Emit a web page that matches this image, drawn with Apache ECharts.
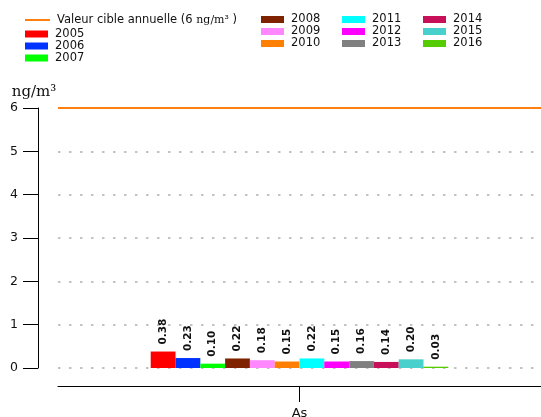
<!DOCTYPE html>
<html>
<head>
<meta charset="utf-8">
<script src="https://cdn.jsdelivr.net/npm/echarts@6/dist/echarts.min.js"></script>
<style>
  html, body { margin: 0; padding: 0; background: #fff; }
  #chart { width: 541px; height: 417px; }
</style>
</head>
<body>
<div id="chart"></div>
<script>
const categories = ['As'];
const years = ['2005', '2006', '2007', '2008', '2009', '2010', '2011', '2012', '2013', '2014', '2015', '2016'];
const values = [0.38, 0.23, 0.10, 0.22, 0.18, 0.15, 0.22, 0.15, 0.16, 0.14, 0.20, 0.03];
const yearColors = ['#ff0000', '#0033ff', '#00ff00', '#7f2200', '#ff88ff', '#ff7f00',
  '#00ffff', '#ff00ff', '#808080', '#c8105a', '#48d1cc', '#55cc00'];
const targetValue = 6;
const targetName = 'Valeur cible annuelle (6 ng/m³ )';
const yMin = 0, yMax = 6, yStep = 1;
const yUnit = 'ng/m³';

const font = 'DejaVu Sans';
const chart = echarts.init(document.getElementById('chart'));

const legendBase = {
  orient: 'vertical',
  padding: 0,
  itemGap: 0,
  itemWidth: 23,
  itemHeight: 7,
  icon: 'rect',
  selectedMode: false,
  textStyle: { fontFamily: font, fontSize: 11.5, color: '#111', lineHeight: 12, padding: [0, 0, 0, 2] }
};

const yearLegend = (from, left, top) => Object.assign({}, legendBase, {
  left: left,
  top: top,
  data: years.slice(from, from + 3)
});

const barSeries = years.map((y, i) => ({
  name: y,
  type: 'bar',
  data: [values[i]],
  barWidth: 24.8,
  barGap: '0%',
  itemStyle: { color: yearColors[i] },
  label: {
    show: true,
    position: 'top',
    distance: 7,
    rotate: 90,
    align: 'left',
    verticalAlign: 'middle',
    fontFamily: font,
    fontWeight: 'bold',
    fontSize: 10.5,
    color: '#111',
    formatter: p => p.value.toFixed(2)
  }
}));

chart.setOption({
  animation: false,
  backgroundColor: '#fff',
  grid: { left: 58, right: 0, top: 108, bottom: 49, outerBoundsMode: 'none', containLabel: false },
  legend: [
    Object.assign({}, legendBase, {
      left: 25, top: 14, itemWidth: 25, itemHeight: 2,
      data: [targetName],
      formatter: () => '{t|Valeur cible annuelle (6 }{u|ng/m³}{t| )}',
      textStyle: Object.assign({}, legendBase.textStyle, {
        rich: {
          t: { fontFamily: font, fontSize: 11.5, color: '#111' },
          u: { fontFamily: 'DejaVu Serif', fontSize: 11, color: '#111' }
        }
      })
    }),
    yearLegend(0, 25, 28),
    yearLegend(3, 261, 13.5),
    yearLegend(6, 342, 13.5),
    yearLegend(9, 423, 13.5)
  ],
  xAxis: {
    type: 'category',
    data: categories,
    offset: 18,
    axisLine: { show: true, onZero: false, lineStyle: { color: '#000', width: 1 } },
    axisTick: { show: true, alignWithLabel: true, length: 16, lineStyle: { color: '#000' } },
    axisLabel: { fontFamily: font, fontSize: 13, color: '#111', margin: 21 },
    splitLine: { show: false }
  },
  yAxis: {
    type: 'value',
    min: yMin,
    max: yMax,
    interval: yStep,
    offset: 20,
    name: yUnit,
    nameLocation: 'end',
    nameGap: 8,
    nameTextStyle: { fontFamily: 'DejaVu Serif', fontSize: 15, color: '#111', padding: [0, 8, 0, 0] },
    axisLine: { show: true, lineStyle: { color: '#000', width: 1 } },
    axisTick: { show: true, length: 15, lineStyle: { color: '#000' } },
    axisLabel: { fontFamily: font, fontSize: 12.5, color: '#111', margin: 20 },
    splitLine: { show: true, lineStyle: { color: '#b0b0b0', width: 1.5, type: [2.5, 8.5] } }
  },
  series: [
    {
      name: targetName,
      type: 'line',
      data: [],
      itemStyle: { color: '#ff7f0e' },
      lineStyle: { color: '#ff7f0e', width: 2 },
      markLine: {
        silent: true,
        symbol: 'none',
        label: { show: false },
        lineStyle: { color: '#ff7f0e', width: 2, type: 'solid' },
        data: [{ yAxis: targetValue }]
      }
    }
  ].concat(barSeries)
});
</script>
</body>
</html>
